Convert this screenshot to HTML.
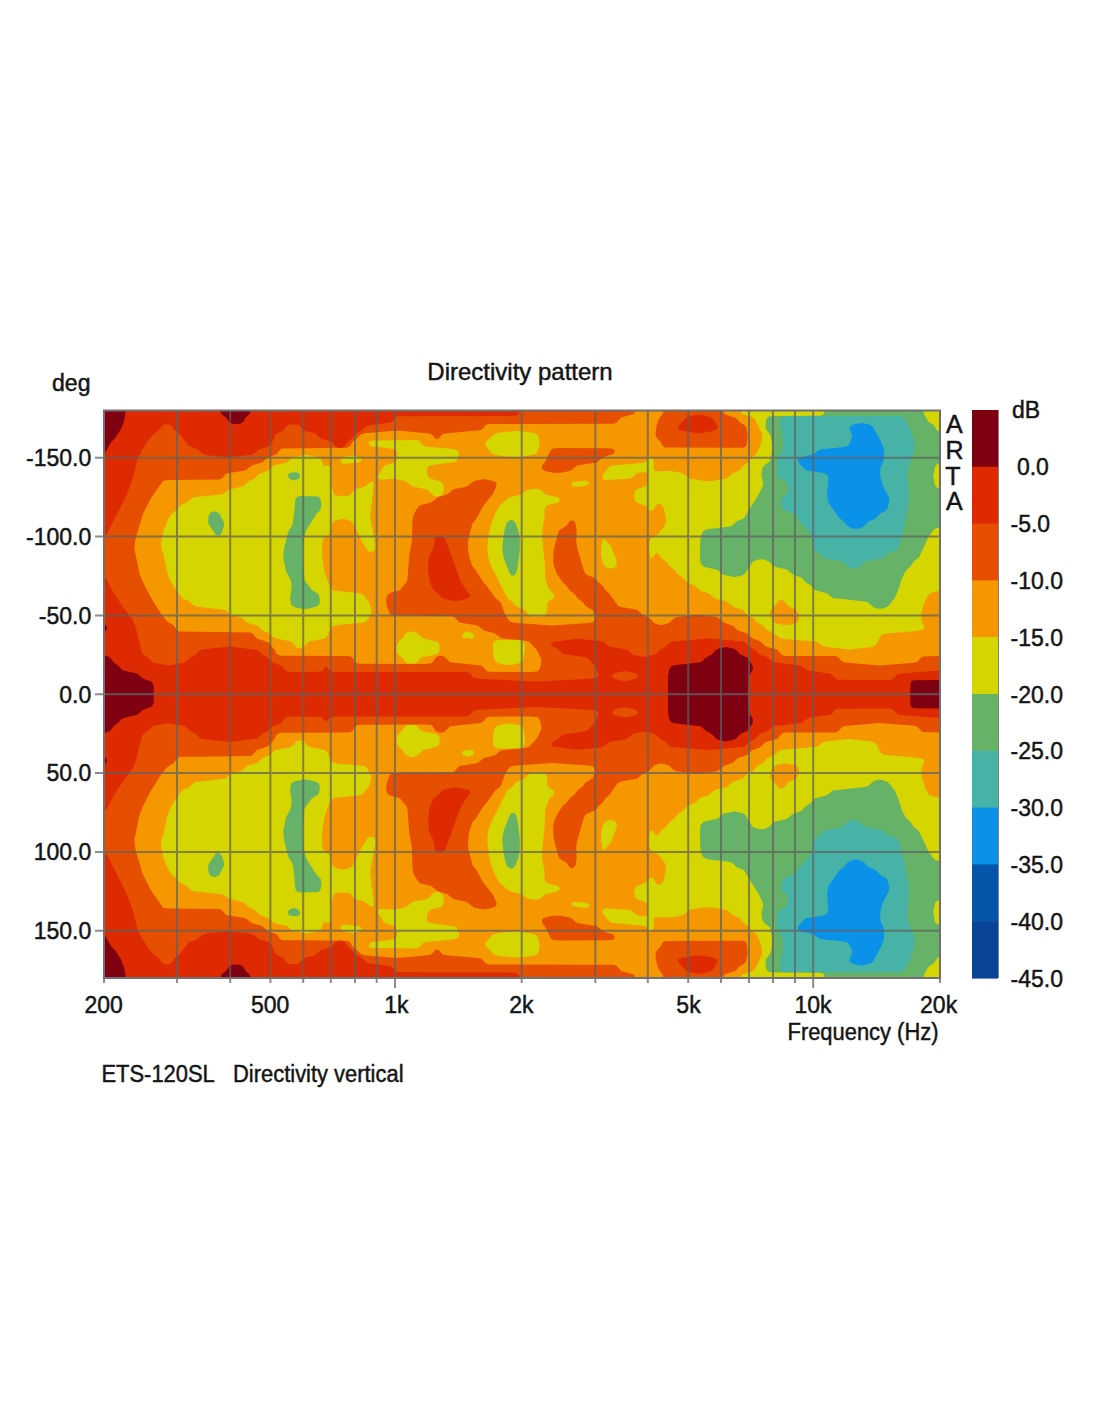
<!DOCTYPE html>
<html><head><meta charset="utf-8"><style>
html,body{margin:0;padding:0;background:#fff;}
body{width:1100px;height:1422px;overflow:hidden;}
svg{display:block;}
text{font-family:"Liberation Sans",sans-serif;fill:#141414;stroke:#141414;stroke-width:0.45px;}
</style></head><body>
<svg width="1100" height="1422" viewBox="0 0 1100 1422">
<rect width="1100" height="1422" fill="#fff"/>
<defs><g id="top">
<rect x="104.0" y="410.5" width="836.0" height="284.25" fill="#0a91e8"/>
<path fill="#47b3a6" fill-rule="evenodd" d="M939.8 694.4 104.2 694.5 104.0 410.8 939.8 410.7 939.8 694.4ZM857.8 528.8 863.5 526.8 868.2 521.6 875.2 518.7 880.2 513.4 885.8 510.5 887.9 507.2 889.4 501.2 888.8 497.6 882.4 484.8 880.2 475.8 880.4 467.8 883.3 461.2 884.3 456.8 883.9 449.2 881.0 441.8 872.8 426.6 869.2 424.5 861.2 422.9 853.2 424.5 849.9 426.8 849.4 429.2 851.8 434.2 852.1 437.2 850.1 442.8 847.7 445.8 843.8 446.9 819.8 449.6 813.2 454.3 800.2 457.5 798.3 458.8 797.7 460.2 798.7 462.8 805.8 470.2 823.8 473.1 827.2 474.8 828.4 478.2 827.0 494.8 828.3 502.2 839.2 517.9 844.2 521.7 847.8 526.2 852.8 528.4 857.8 528.8Z"/>
<path fill="#66b266" fill-rule="evenodd" d="M939.8 694.4 104.2 694.5 104.0 410.8 939.8 410.7 939.8 694.4ZM854.6 568.8 859.2 567.1 865.2 561.5 882.2 558.3 887.8 553.4 896.7 550.2 899.0 546.8 904.6 525.8 908.6 502.8 908.9 492.2 907.2 476.8 907.7 470.8 908.8 466.0 913.5 453.2 914.6 446.8 913.9 439.8 909.3 426.8 903.8 417.5 899.8 416.0 788.8 415.9 782.3 416.8 780.3 419.8 780.1 425.8 782.9 436.8 783.6 444.8 781.5 452.8 777.4 460.2 777.1 473.2 777.8 476.2 779.1 478.2 784.8 480.9 786.8 482.8 788.5 489.8 787.2 494.0 782.6 497.2 781.2 499.2 780.9 502.8 782.4 507.8 785.1 510.8 794.2 514.1 803.5 526.2 807.8 530.1 812.1 538.2 813.6 547.8 815.4 550.8 819.8 553.3 824.8 558.3 841.2 561.3 843.7 562.8 848.2 567.4 851.8 568.6 854.6 568.8Z"/>
<path fill="#d5d500" fill-rule="evenodd" d="M939.8 694.3 104.2 694.4 104.1 410.8 824.8 410.8 823.8 414.3 820.7 415.8 772.8 416.0 769.2 416.4 767.2 417.6 766.0 420.8 765.5 427.2 766.2 429.8 769.6 433.8 770.8 436.8 771.9 443.8 771.9 452.2 769.9 461.2 763.9 465.8 762.1 469.2 761.4 475.2 763.2 482.8 762.5 486.8 758.8 494.2 743.8 518.4 736.8 521.3 732.6 525.2 730.2 526.5 707.2 529.2 703.2 531.2 701.1 535.8 700.2 540.8 700.0 558.8 700.8 563.8 703.8 566.8 717.2 569.7 723.8 575.1 734.2 577.1 741.2 575.7 744.8 574.2 752.0 562.8 753.8 561.1 759.8 559.2 764.2 559.6 768.8 561.4 773.8 566.4 786.8 569.4 792.8 574.6 801.2 577.4 806.2 582.7 811.2 585.7 815.2 590.2 826.8 593.3 832.8 598.0 865.2 601.4 868.2 602.6 873.8 607.4 878.2 608.8 881.8 608.8 887.8 606.5 894.6 598.2 898.2 590.1 901.8 578.4 905.8 570.8 910.5 566.2 913.8 561.5 919.0 557.2 927.8 538.5 933.2 530.2 935.8 528.2 939.8 527.2 939.8 694.3ZM939.8 431.8 937.2 430.4 933.8 425.3 928.2 421.6 924.1 414.2 923.4 410.8 939.8 410.8 939.8 431.8ZM939.8 488.4 936.8 487.4 934.9 485.2 933.2 476.2 934.9 466.8 936.8 464.6 939.8 463.6 939.8 488.4ZM295.6 480.2 299.4 477.8 300.0 475.2 299.2 473.6 297.2 472.5 293.8 472.3 288.8 473.6 288.0 476.2 289.2 478.6 292.2 480.2 295.6 480.2ZM308.5 608.8 317.8 606.1 319.5 603.2 319.8 598.8 318.4 594.2 311.8 590.1 304.6 580.2 303.0 560.2 303.1 548.2 304.2 538.2 306.0 530.2 316.1 514.2 320.6 509.8 321.5 504.8 320.4 498.8 318.2 496.6 300.2 496.1 297.2 496.8 295.5 499.2 293.0 522.8 291.8 526.2 288.7 530.8 286.8 536.8 284.1 548.2 283.3 557.8 286.0 571.2 290.2 578.8 291.3 582.8 291.6 588.2 290.1 598.2 290.9 604.2 292.5 606.2 295.8 607.6 303.8 609.1 308.5 608.8ZM218.5 535.8 220.2 534.8 221.6 532.8 224.0 526.2 224.1 522.8 219.2 513.5 216.2 511.7 213.2 511.6 210.2 513.1 208.8 515.2 208.1 519.2 208.4 523.8 215.2 534.3 216.8 535.5 218.5 535.8ZM513.5 575.8 515.8 574.1 517.2 569.8 519.8 549.8 519.9 540.2 518.6 531.2 515.5 523.2 513.7 520.8 510.8 519.8 507.2 521.9 505.1 527.8 503.3 537.2 502.3 549.2 503.7 557.8 509.2 572.3 511.2 575.2 513.5 575.8Z"/>
<path fill="#f59800" fill-rule="evenodd" d="M939.8 694.3 104.2 694.3 104.2 410.8 740.8 410.8 741.3 412.8 742.8 414.3 752.2 417.0 755.1 419.2 762.0 434.2 762.1 439.2 760.0 446.8 756.2 454.2 751.8 457.5 748.3 462.2 743.8 465.5 739.9 470.2 732.2 473.6 727.2 478.3 712.2 480.9 705.8 481.2 689.8 478.7 683.8 473.9 679.8 472.6 667.8 470.8 656.2 471.5 654.7 470.8 653.9 469.2 653.2 459.1 652.2 457.4 650.8 456.9 649.2 457.7 646.2 461.5 643.8 462.7 611.2 465.8 609.0 467.2 603.2 474.2 602.3 476.8 602.7 478.8 604.3 479.8 607.8 480.1 629.8 478.5 632.2 477.5 636.8 473.5 640.8 472.4 645.2 472.2 647.8 473.7 648.1 477.8 647.2 484.2 644.8 486.8 637.8 488.9 635.4 490.8 634.2 495.2 634.8 500.2 637.2 502.8 645.7 505.8 649.2 510.3 650.8 511.1 652.8 510.2 656.8 504.5 659.2 503.8 661.2 504.5 663.8 508.2 665.9 518.2 665.7 523.2 664.2 526.6 658.2 534.1 651.8 537.3 649.8 539.8 649.1 549.8 650.2 557.6 652.2 558.3 655.8 553.3 658.1 553.2 661.6 558.2 666.2 561.7 669.8 566.5 674.2 569.7 678.2 574.7 683.2 577.7 687.2 582.4 694.8 585.6 700.2 590.8 709.2 593.5 714.8 598.4 726.5 601.2 732.8 606.5 742.2 609.5 747.2 614.6 753.2 617.8 757.2 622.6 763.2 625.8 767.1 630.2 774.2 633.1 779.3 637.8 783.8 638.9 815.2 641.4 818.2 642.5 822.8 646.2 828.2 647.3 848.8 649.4 871.8 646.9 875.8 644.9 880.8 635.8 883.6 633.8 915.8 631.1 922.6 629.8 923.8 628.8 924.3 626.8 921.5 620.2 921.2 613.2 925.2 600.6 929.2 593.7 932.8 592.2 939.8 590.9 939.8 694.3ZM515.4 457.2 532.2 455.1 536.4 453.2 538.5 449.2 539.7 443.8 538.9 437.8 537.2 434.5 533.2 432.8 516.8 430.8 499.2 432.6 493.9 434.2 485.7 442.2 485.2 444.2 485.8 446.2 492.8 454.2 498.8 455.6 515.4 457.2ZM439.2 496.2 441.9 494.8 443.4 492.2 443.9 487.8 443.1 483.8 440.5 481.2 431.2 479.1 428.8 477.8 426.9 473.2 427.0 468.2 428.5 466.2 431.1 465.2 455.2 462.0 457.2 460.1 458.8 455.8 458.9 452.8 457.8 450.6 452.8 449.1 425.2 446.5 422.7 445.2 419.2 441.0 416.2 440.1 374.8 440.5 370.8 440.8 369.0 441.8 368.7 444.2 370.8 446.0 393.2 449.1 395.8 450.3 397.2 452.8 397.0 457.8 395.2 461.7 392.8 463.2 385.2 465.2 382.8 467.4 378.5 475.2 378.2 477.8 379.2 479.2 382.2 479.7 392.2 478.8 404.2 480.8 407.2 482.2 412.2 486.5 426.2 489.2 428.2 490.3 433.2 495.6 436.2 496.6 439.2 496.2ZM301.4 648.2 304.2 646.8 307.2 642.9 309.2 641.5 322.8 639.1 325.8 637.9 327.5 635.8 330.8 627.9 332.8 626.0 336.8 625.1 364.2 622.4 367.2 620.3 371.1 613.2 371.2 609.2 369.3 602.8 362.8 594.2 358.2 593.0 334.8 590.7 331.8 589.3 330.1 586.8 324.3 571.8 322.2 555.2 322.1 544.2 323.5 538.2 328.6 534.8 330.1 532.8 332.3 522.8 334.8 520.8 341.2 519.1 345.2 519.3 350.8 521.0 353.5 523.8 361.8 541.5 367.8 550.8 370.2 552.1 373.2 551.5 375.0 549.2 375.5 546.2 370.2 516.8 373.7 485.2 373.4 482.2 370.8 481.7 365.2 486.5 354.8 489.6 351.1 494.2 349.2 495.4 342.2 496.0 335.8 495.4 333.5 493.2 331.5 485.8 331.0 469.2 330.2 466.5 328.2 465.5 323.6 466.2 321.2 459.8 318.8 457.3 306.2 454.8 294.2 456.9 291.8 458.2 286.8 462.6 273.8 465.6 268.2 470.6 259.2 473.7 255.1 478.2 248.2 481.5 243.4 486.2 229.2 489.4 222.8 494.2 195.8 497.0 191.2 498.2 186.8 502.5 179.9 505.8 176.3 510.2 170.8 514.8 166.8 522.2 163.6 530.2 161.1 542.8 161.5 548.8 163.6 555.2 167.8 574.2 171.2 582.2 182.2 598.4 189.2 601.3 193.8 605.5 196.2 606.6 225.2 610.0 231.2 614.7 241.7 617.8 247.2 622.7 257.2 625.5 262.0 630.2 269.2 633.3 274.8 638.3 290.2 641.3 292.6 642.8 296.8 647.5 301.4 648.2ZM346.8 463.8 359.2 462.2 361.2 461.1 361.7 459.2 359.8 457.2 352.8 455.3 347.8 455.9 342.5 457.8 340.7 460.2 341.0 462.8 343.2 463.8 346.8 463.8ZM583.3 486.2 588.2 484.8 589.0 483.2 588.7 481.8 585.8 480.8 575.8 481.7 572.8 482.6 571.5 484.2 571.9 485.8 573.8 486.5 583.3 486.2ZM539.2 616.8 543.8 615.4 546.2 613.7 547.2 611.2 547.2 603.1 548.8 601.1 553.2 598.4 554.4 596.2 553.6 593.8 548.8 589.1 545.2 579.2 544.8 563.2 542.0 536.8 542.4 528.8 544.6 516.8 544.7 508.8 547.2 505.3 557.8 502.4 559.3 501.2 559.8 499.8 559.0 498.2 557.2 497.3 545.2 494.3 540.2 489.4 535.8 488.8 527.5 489.8 520.8 494.6 509.2 497.4 499.2 506.1 494.8 514.2 491.2 523.8 489.0 532.8 487.2 548.8 488.3 557.2 490.8 565.6 507.2 597.9 512.2 601.7 516.0 606.2 523.8 609.6 528.8 614.8 534.8 616.7 539.2 616.8ZM612.8 568.2 615.2 567.0 616.7 565.2 616.6 560.8 611.2 546.8 605.2 539.2 603.8 538.5 602.2 541.3 601.1 548.8 601.2 556.2 602.6 561.8 603.9 565.2 605.8 567.2 609.2 568.5 612.8 568.2ZM789.2 624.8 784.2 625.0 775.8 623.2 773.2 621.2 770.9 616.8 769.9 613.2 770.5 610.2 779.2 600.2 781.8 599.9 783.7 600.8 788.1 606.2 795.2 609.3 797.8 612.5 799.1 617.8 798.4 621.2 795.8 623.2 789.2 624.8ZM414.0 663.8 416.8 662.6 421.2 657.5 437.2 654.2 439.3 651.8 439.8 646.8 439.1 643.8 437.2 641.8 423.2 638.6 416.9 632.8 411.2 631.3 406.1 633.2 402.5 638.2 398.6 641.8 397.1 645.2 396.5 650.8 397.7 654.2 402.2 657.8 405.8 662.9 408.8 663.8 414.0 663.8ZM471.7 638.8 473.4 637.8 473.8 635.8 472.9 633.8 471.2 632.6 466.2 631.8 462.2 634.2 462.0 636.2 463.8 638.0 471.7 638.8ZM512.6 664.8 520.2 663.0 523.2 660.2 524.9 650.8 524.8 644.8 523.8 641.8 521.8 640.4 517.2 640.0 498.8 640.1 494.3 641.2 493.0 643.8 493.1 651.8 493.9 657.8 495.4 661.2 497.3 662.8 501.2 663.9 508.2 665.1 512.6 664.8Z"/>
<path fill="#e64e00" fill-rule="evenodd" d="M939.8 694.3 104.2 694.3 104.2 410.8 635.2 410.8 634.6 412.8 633.1 414.2 621.2 417.4 616.8 422.6 613.8 423.8 489.2 424.1 485.8 425.0 482.2 429.2 480.2 430.3 444.8 433.4 442.2 434.4 438.9 438.2 437.2 439.0 435.2 438.4 432.2 434.7 429.2 433.4 401.2 430.8 393.8 430.7 364.8 433.2 360.5 434.8 357.2 438.3 352.8 441.6 349.8 446.5 347.2 447.7 281.8 448.6 279.9 449.8 276.7 454.2 267.8 457.4 262.2 462.5 252.2 465.3 245.2 470.6 226.2 473.6 221.8 478.6 219.8 479.6 168.2 480.0 163.2 480.8 151.2 497.8 142.8 514.2 135.4 539.2 134.4 548.8 139.6 573.8 142.8 581.8 150.8 597.5 161.0 613.8 167.2 621.6 173.8 625.5 177.0 630.2 178.8 631.4 250.8 632.4 252.8 633.4 256.8 638.4 268.2 642.2 274.6 649.8 277.0 654.2 280.8 655.8 348.2 656.1 352.2 657.1 355.2 662.4 358.8 663.8 424.2 664.0 431.8 663.2 436.2 657.0 440.8 655.5 444.5 656.8 450.3 662.2 480.8 665.5 483.3 666.8 486.4 670.8 489.0 671.8 531.8 672.0 537.8 671.2 539.2 669.7 540.2 666.9 541.3 661.8 541.0 658.2 536.6 649.8 528.8 641.6 523.2 640.2 501.2 638.3 494.8 633.3 483.8 630.5 477.8 625.6 459.2 622.4 454.8 617.4 452.2 616.3 392.2 615.6 389.7 613.8 386.7 605.8 386.1 599.2 387.5 594.8 389.8 593.1 399.8 590.2 406.2 582.6 407.4 580.2 409.2 555.8 411.8 541.2 412.5 520.2 413.8 514.2 417.9 507.2 420.8 505.1 431.2 502.5 437.8 497.2 447.2 494.5 453.2 489.4 466.8 486.6 474.3 480.8 485.2 479.0 494.8 481.4 496.4 483.2 496.6 485.8 493.0 493.8 483.2 505.9 477.0 517.8 472.4 523.8 468.2 540.2 468.1 548.2 469.2 556.2 472.2 566.0 475.8 569.9 483.2 582.1 486.7 585.8 495.1 597.8 500.8 602.4 505.2 614.7 508.7 620.2 510.8 622.0 516.2 623.0 552.2 625.4 588.2 622.9 592.2 622.2 594.3 620.8 594.9 616.8 592.8 610.6 585.8 606.2 582.3 601.8 577.8 598.5 574.3 593.8 569.8 590.5 566.5 585.8 562.5 582.2 556.8 573.4 553.5 564.8 553.1 557.2 553.9 549.2 558.3 532.2 560.2 529.5 566.2 526.1 569.8 521.1 572.2 520.2 574.3 521.2 575.8 524.3 576.7 530.8 576.2 540.2 577.1 547.2 583.2 568.7 585.2 573.3 587.2 574.9 595.4 578.2 598.4 582.2 602.5 585.8 605.5 590.2 609.5 593.8 618.0 605.8 621.2 607.1 637.2 609.8 642.2 614.5 649.1 617.8 654.5 623.2 660.2 624.9 664.2 624.6 669.4 622.8 673.4 618.8 675.8 617.4 693.8 614.8 699.2 614.8 716.2 617.1 719.2 618.4 723.8 622.6 732.8 625.7 737.8 630.5 747.2 633.5 752.1 638.2 760.2 641.3 765.8 646.4 777.2 649.6 781.5 654.8 784.8 655.9 835.2 656.1 838.2 657.0 841.8 661.3 844.8 662.6 879.8 665.4 914.2 662.8 917.8 661.6 921.2 657.4 923.2 656.4 939.8 656.0 939.8 694.3ZM742.8 447.8 665.2 447.6 663.0 446.2 660.4 441.8 655.9 436.8 655.5 432.8 656.8 424.8 658.8 418.9 662.8 413.8 663.5 410.8 722.8 410.8 724.7 414.2 735.7 417.8 739.8 422.3 744.6 425.2 746.2 427.2 747.7 434.8 747.1 442.8 745.8 446.4 742.8 447.8ZM560.8 472.8 555.8 473.1 548.8 471.9 543.8 470.5 541.8 468.6 542.0 465.8 545.2 461.4 550.7 450.2 552.8 448.6 559.2 448.0 607.2 448.3 612.5 448.8 614.5 450.2 614.6 452.2 613.2 454.0 603.2 457.1 596.8 462.4 578.2 465.3 575.8 466.4 570.8 470.7 560.8 472.8Z"/>
<path fill="#de2a00" fill-rule="evenodd" d="M104.2 535.8 104.2 410.7 519.8 410.8 518.3 414.8 514.2 415.9 397.8 416.2 395.4 417.2 392.3 421.2 390.2 422.5 370.2 425.0 366.2 426.2 361.8 430.6 355.8 433.8 352.2 438.3 347.7 441.8 344.5 446.8 340.8 447.9 336.2 447.2 331.5 441.8 320.8 438.5 314.8 433.3 303.8 430.4 298.8 424.8 290.0 424.2 287.2 425.4 283.2 430.7 275.6 434.2 271.3 444.2 269.2 446.4 259.2 449.3 254.2 453.6 251.8 454.7 228.8 457.3 207.8 455.3 202.8 454.1 197.2 449.3 188.8 445.9 179.3 433.8 174.7 430.2 171.5 425.2 168.8 424.2 164.2 424.4 162.0 425.8 158.8 430.6 153.3 434.2 147.2 441.9 141.8 450.5 137.5 459.2 133.0 477.8 127.2 493.7 107.2 533.5 104.2 535.8ZM698.2 433.3 680.8 430.6 678.4 429.2 677.9 426.8 685.6 418.2 689.8 416.3 699.8 414.6 708.8 416.5 712.3 418.2 717.2 425.8 717.5 427.8 716.8 429.3 712.2 431.2 698.2 433.3ZM459.2 600.8 453.2 600.9 442.2 598.2 438.2 593.7 433.2 589.8 429.7 581.8 428.1 570.8 428.8 558.2 430.0 554.2 433.3 548.8 434.8 539.2 436.0 537.2 438.2 535.9 442.2 536.0 445.2 538.8 460.4 580.8 466.2 590.1 470.2 594.8 470.1 596.8 468.8 598.3 459.2 600.8ZM939.8 694.3 104.2 694.3 104.2 576.9 106.2 578.6 111.9 589.8 122.0 605.8 132.5 619.2 135.8 627.4 142.2 653.5 148.2 657.7 152.8 662.4 165.8 665.0 171.8 665.0 184.8 662.6 190.2 657.4 195.5 654.8 199.4 650.8 201.8 649.5 229.8 646.6 256.9 649.8 262.2 654.6 268.2 657.8 272.2 662.3 281.2 665.5 285.2 670.6 288.8 671.9 319.8 671.8 322.5 670.8 325.2 666.9 326.2 666.6 329.5 670.8 333.8 671.9 464.8 672.1 469.2 673.0 473.8 677.8 478.8 678.8 534.8 681.5 572.2 679.8 595.2 678.2 597.9 676.8 598.3 673.8 594.8 665.9 587.9 658.2 584.2 657.0 562.8 654.1 557.8 649.3 551.6 645.8 551.2 643.8 552.8 642.1 576.8 638.7 600.2 641.0 603.8 642.1 609.2 646.5 625.8 649.3 628.2 650.4 633.2 654.9 644.2 657.1 655.2 654.6 660.2 649.4 665.5 646.8 669.5 642.8 671.8 641.6 708.8 638.6 743.2 641.6 745.5 642.8 749.5 646.8 755.2 649.8 759.2 654.3 767.2 657.3 773.2 662.2 800.8 665.4 809.2 670.7 830.8 673.7 835.4 678.8 838.2 679.8 890.2 679.9 893.2 679.0 896.8 674.8 899.8 673.4 939.8 670.6 939.8 694.3ZM627.8 680.8 636.6 678.2 637.8 676.8 637.6 674.8 634.2 672.8 624.8 671.0 615.2 672.9 612.2 675.2 612.4 677.2 614.8 678.9 623.2 680.9 627.8 680.8Z"/>
<path fill="#7f0010" fill-rule="evenodd" d="M104.8 453.3 104.2 453.6 104.2 410.8 125.9 410.8 124.2 420.8 120.8 429.4 115.2 438.0 111.1 442.2 104.8 453.3ZM239.8 423.8 233.2 423.9 229.8 422.9 226.2 417.8 221.7 414.2 220.5 410.8 250.5 410.8 249.7 413.8 245.6 417.8 243.0 422.2 239.8 423.8ZM105.2 631.3 104.2 631.6 104.2 624.4 106.0 625.2 106.9 627.2 106.6 629.8 105.2 631.3ZM747.8 694.3 668.0 694.2 668.1 676.2 669.2 669.3 670.8 666.7 673.8 665.3 700.8 662.2 706.2 657.4 711.8 654.6 715.8 650.0 718.8 648.4 725.8 647.0 733.2 648.4 736.2 650.0 740.2 654.4 748.2 658.1 752.8 666.0 752.8 669.6 749.8 674.8 748.8 678.7 747.8 694.3ZM153.8 694.3 104.2 694.3 104.2 655.3 109.8 657.3 113.8 662.5 118.2 665.7 122.6 670.2 136.8 673.4 142.8 678.6 151.8 681.8 153.7 685.8 153.8 694.3ZM939.8 694.3 910.0 694.2 910.6 682.8 912.2 680.8 914.8 680.2 939.8 680.0 939.8 694.3Z"/>
</g></defs>
<use href="#top"/>
<use href="#top" transform="matrix(1 0 0 -1 0 1388.50)"/>
<g stroke="#606060" stroke-width="2" fill="none" opacity="0.72">
<line x1="177.0" y1="410.5" x2="177.0" y2="983.0"/>
<line x1="230.2" y1="410.5" x2="230.2" y2="983.0"/>
<line x1="270.4" y1="410.5" x2="270.4" y2="983.0"/>
<line x1="303.2" y1="410.5" x2="303.2" y2="983.0"/>
<line x1="330.8" y1="410.5" x2="330.8" y2="983.0"/>
<line x1="355.0" y1="410.5" x2="355.0" y2="983.0"/>
<line x1="376.7" y1="410.5" x2="376.7" y2="983.0"/>
<line x1="395.0" y1="410.5" x2="395.0" y2="988.0"/>
<line x1="521.7" y1="410.5" x2="521.7" y2="983.0"/>
<line x1="595.3" y1="410.5" x2="595.3" y2="983.0"/>
<line x1="647.8" y1="410.5" x2="647.8" y2="983.0"/>
<line x1="688.2" y1="410.5" x2="688.2" y2="983.0"/>
<line x1="721.0" y1="410.5" x2="721.0" y2="983.0"/>
<line x1="749.0" y1="410.5" x2="749.0" y2="983.0"/>
<line x1="773.0" y1="410.5" x2="773.0" y2="983.0"/>
<line x1="795.0" y1="410.5" x2="795.0" y2="983.0"/>
<line x1="813.2" y1="410.5" x2="813.2" y2="988.0"/>
<line x1="95.0" y1="457.8" x2="940.0" y2="457.8"/>
<line x1="95.0" y1="536.6" x2="940.0" y2="536.6"/>
<line x1="95.0" y1="615.4" x2="940.0" y2="615.4"/>
<line x1="95.0" y1="694.2" x2="940.0" y2="694.2"/>
<line x1="95.0" y1="773.1" x2="940.0" y2="773.1"/>
<line x1="95.0" y1="851.9" x2="940.0" y2="851.9"/>
<line x1="95.0" y1="930.7" x2="940.0" y2="930.7"/>
<line x1="104.0" y1="978.0" x2="104.0" y2="983.0"/>
<line x1="940.0" y1="978.0" x2="940.0" y2="983.0"/>
</g>
<rect x="104.0" y="410.5" width="836.0" height="567.5" fill="none" stroke="#707070" stroke-width="2"/>
<rect x="972" y="410.0" width="26" height="57.4" fill="#7f0010"/>
<rect x="972" y="466.8" width="26" height="57.4" fill="#de2a00"/>
<rect x="972" y="523.6" width="26" height="57.4" fill="#e64e00"/>
<rect x="972" y="580.4" width="26" height="57.4" fill="#f59800"/>
<rect x="972" y="637.2" width="26" height="57.4" fill="#d5d500"/>
<rect x="972" y="694.0" width="26" height="57.4" fill="#66b266"/>
<rect x="972" y="750.8" width="26" height="57.4" fill="#47b3a6"/>
<rect x="972" y="807.6" width="26" height="57.4" fill="#0a91e8"/>
<rect x="972" y="864.4" width="26" height="57.4" fill="#0556ab"/>
<rect x="972" y="921.2" width="26" height="57.4" fill="#0a4499"/>
<line x1="998.5" y1="410" x2="998.5" y2="978" stroke="#808080" stroke-width="1"/>
<text x="520" y="379.5" text-anchor="middle" font-size="24">Directivity pattern</text>
<g font-size="23">
<text x="52" y="391" textLength="38.5" lengthAdjust="spacingAndGlyphs">deg</text>
<text x="91.2" y="466.1" text-anchor="end">-150.0</text>
<text x="91.2" y="544.9" text-anchor="end">-100.0</text>
<text x="91.2" y="623.7" text-anchor="end">-50.0</text>
<text x="91.2" y="702.5" text-anchor="end">0.0</text>
<text x="91.2" y="781.4" text-anchor="end">50.0</text>
<text x="91.2" y="860.2" text-anchor="end">100.0</text>
<text x="91.2" y="939.0" text-anchor="end">150.0</text>
<text x="103.6" y="1012.7" text-anchor="middle">200</text>
<text x="270.2" y="1012.7" text-anchor="middle">500</text>
<text x="396.4" y="1012.7" text-anchor="middle">1k</text>
<text x="521.4" y="1012.7" text-anchor="middle">2k</text>
<text x="688.5" y="1012.7" text-anchor="middle">5k</text>
<text x="813.0" y="1012.7" text-anchor="middle">10k</text>
<text x="938.6" y="1012.7" text-anchor="middle">20k</text>
<text x="787.5" y="1039.8" textLength="151" lengthAdjust="spacingAndGlyphs">Frequency (Hz)</text>
<text x="101.5" y="1081.5" textLength="302" lengthAdjust="spacingAndGlyphs">ETS-120SL&#160;&#160;&#160;Directivity vertical</text>
<text x="1012" y="418.4">dB</text>
<text x="1010.5" y="475.3">&#160;0.0</text>
<text x="1010.5" y="532.1">-5.0</text>
<text x="1010.5" y="588.9">-10.0</text>
<text x="1010.5" y="645.7">-15.0</text>
<text x="1010.5" y="702.5">-20.0</text>
<text x="1010.5" y="759.3">-25.0</text>
<text x="1010.5" y="816.1">-30.0</text>
<text x="1010.5" y="872.9">-35.0</text>
<text x="1010.5" y="929.7">-40.0</text>
<text x="1010.5" y="986.5">-45.0</text>
</g>
<g font-size="25" fill="#222" style="stroke-width:0">
<text x="954.3" y="433.3" text-anchor="middle">A</text>
<text x="954.5" y="458.8" text-anchor="middle">R</text>
<text x="953" y="484.6" text-anchor="middle">T</text>
<text x="954.3" y="510.1" text-anchor="middle">A</text>
</g>
</svg>
</body></html>
